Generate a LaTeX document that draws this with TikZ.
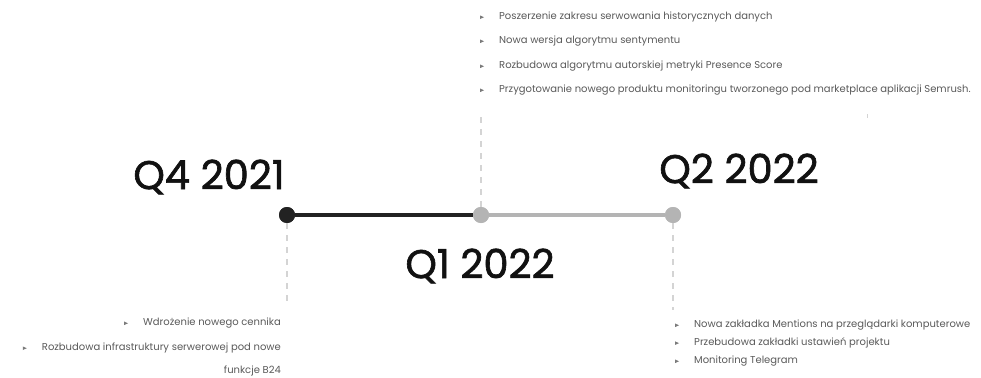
\documentclass[tikz,border=0pt]{standalone}
\usepackage{fontspec}
\setmainfont{Poppins}
\newfontfamily\headfont[FakeBold=1.6]{Poppins}
\usetikzlibrary{calc}
\definecolor{txtgray}{HTML}{5A5A5A}
\definecolor{dotgray}{HTML}{B4B4B4}
\definecolor{dashgray}{HTML}{D4D4D4}
\definecolor{darkline}{HTML}{222222}
\definecolor{headc}{HTML}{111111}
\tikzset{
  heading/.style={font=\headfont\fontsize{40}{44}\selectfont, text=headc, inner sep=0pt},
  item/.style={font=\fontsize{10}{12}\selectfont, text=txtgray, inner sep=0pt},
  dotdark/.style={circle, fill=darkline, minimum size=16pt, inner sep=0pt},
  dotlight/.style={circle, fill=dotgray, minimum size=16pt, inner sep=0pt},
  guide/.style={draw=dashgray, line width=1.2pt, dash pattern=on 6pt off 6pt},
  bullet/.style={fill=txtgray!80}
}
\newcommand{\bul}[1]{\fill[bullet] ($(#1.west)+(-19,1.8)$) -- ++(4,-1.8) -- ++(-4,-1.8) -- cycle;}
\begin{document}
\begin{tikzpicture}[x=1pt,y=-1pt]
\useasboundingbox[fill=white] (0,0) rectangle (981,377);
% guides
\coordinate (g1) at (287,306);
\coordinate (g2) at (481,116);
\coordinate (g3) at (673,310);
\coordinate (g4) at (867,114);
\node[dotdark] (q4) at (287,215) {};
\node[dotlight] (q1) at (481,215) {};
\node[dotlight] (q2) at (673,215) {};
\draw[guide] (q4) -- (g1);
\draw[guide] (q1) -- (g2);
\draw[guide] (q2) -- (g3);
\draw[dashgray, line width=1pt] (g4) -- ++(0,4);
\draw[darkline, line width=4pt] (q4) -- (q1);
\draw[dotgray, line width=4pt] (q1) -- (q2);
\node[dotdark] at (q4) {};
\node[dotlight] at (q1) {};
\node[dotlight] at (q2) {};
% headings
\node[heading] (h4) at (209,177) {Q4 2021};
\node[heading] (h1) at (480,266) {Q1 2022};
\node[heading] (h2) at (739,171) {Q2 2022};
% top items
\node[item, anchor=mid west] (t1) at (499,17) {Poszerzenie zakresu serwowania historycznych danych};
\node[item, anchor=mid west] (t2) at (499,41) {Nowa wersja algorytmu sentymentu};
\node[item, anchor=mid west] (t3) at (499,66) {Rozbudowa algorytmu autorskiej metryki Presence Score};
\node[item, anchor=mid west] (t4) at (499,90) {Przygotowanie nowego produktu monitoringu tworzonego pod marketplace aplikacji Semrush.};
\bul{t1}\bul{t2}\bul{t3}\bul{t4}
% bottom left
\node[item, anchor=mid east] (l1) at (281,323) {Wdrożenie nowego cennika};
\node[item, anchor=mid east] (l2) at (281,348) {Rozbudowa infrastruktury serwerowej pod nowe};
\node[item, anchor=mid east] (l3) at (281,371) {funkcje B24};
\bul{l1}\bul{l2}
% bottom right
\node[item, anchor=mid west] (r1) at (694,325) {Nowa zakładka Mentions na przeglądarki komputerowe};
\node[item, anchor=mid west] (r2) at (694,343) {Przebudowa zakładki ustawień projektu};
\node[item, anchor=mid west] (r3) at (694,361) {Monitoring Telegram};
\bul{r1}\bul{r2}\bul{r3}
\end{tikzpicture}
\end{document}
